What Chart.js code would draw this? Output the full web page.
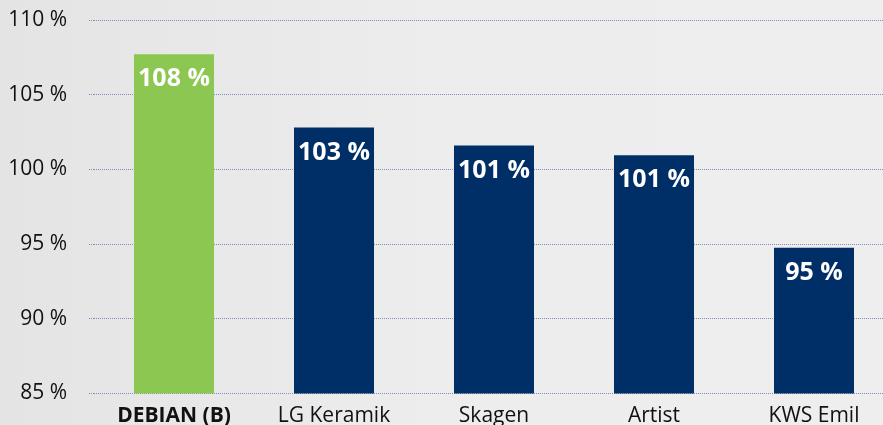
<!DOCTYPE html>
<html>
<head>
<meta charset="utf-8">
<script src="https://cdn.jsdelivr.net/npm/chart.js@4.4.0/dist/chart.umd.min.js"></script>
<style>
  html, body { margin: 0; padding: 0; overflow: hidden; background: #ebebeb; }
  body { width: 883px; height: 425px; background: linear-gradient(90deg, #e4e4e4 0%, #ededed 50%, #eeeeee 100%); }
  canvas { display: block; }
</style>
</head>
<body>
<canvas id="c" width="894" height="425"></canvas>
<script>
const categories = ["DEBIAN (B)", "LG Keramik", "Skagen", "Artist", "KWS Emil"];
const values = [107.7, 102.8, 101.6, 100.95, 94.75];
const valueLabels = ["108 %", "103 %", "101 %", "101 %", "95 %"];
const barColors = ["#8cc751", "#002f67", "#002f67", "#002f67", "#002f67"];
const yTicks = [85, 90, 95, 100, 105, 110];

const FONT = "'Open Sans', 'Noto Sans', sans-serif";

const valueLabelPlugin = {
  id: 'valueLabels',
  afterDatasetsDraw(chart) {
    const ctx = chart.ctx;
    const meta = chart.getDatasetMeta(0);
    ctx.save();
    ctx.fillStyle = '#ffffff';
    ctx.font = "bold 25px " + FONT;
    ctx.textAlign = 'center';
    ctx.textBaseline = 'middle';
    meta.data.forEach((bar, i) => {
      ctx.fillText(valueLabels[i], bar.x, bar.y + 25);
    });
    ctx.restore();
  }
};

new Chart(document.getElementById('c'), {
  type: 'bar',
  data: {
    labels: categories,
    datasets: [{
      data: values,
      backgroundColor: barColors,
      borderWidth: 0,
      barPercentage: 1.0,
      categoryPercentage: 0.5
    }]
  },
  options: {
    responsive: false,
    animation: false,
    devicePixelRatio: 1,
    layout: { padding: { top: 20, right: 0, left: 0, bottom: 0 } },
    plugins: { legend: { display: false }, tooltip: { enabled: false } },
    scales: {
      x: {
        grid: { display: false, drawTicks: false },
        border: { display: false },
        ticks: {
          color: '#111111',
          padding: 10,
          font: (c) => ({ family: FONT, size: 21, weight: c.index === 0 ? 'bold' : 'normal' })
        },
        afterFit(scale) {
          scale.height = 31.5;
          scale.paddingLeft = 0; scale.paddingRight = 0;
          scale.paddingTop = 0; scale.paddingBottom = 0;
        }
      },
      y: {
        min: 85,
        max: 110,
        afterBuildTicks(scale) { scale.ticks = yTicks.map(v => ({ value: v })); },
        grid: {
          color: '#7f8bc0',
          lineWidth: 1,
          borderDash: [1, 1],
          tickLength: 5,
          tickColor: '#7f8bc0',
          tickBorderDash: [1, 1],
          drawTicks: true
        },
        border: { display: false, dash: [1, 1] },
        ticks: {
          color: '#111111',
          padding: 22,
          font: { family: FONT, size: 21 },
          callback: (v) => v + ' %'
        },
        afterFit(scale) {
          scale.width = 94;
          scale.paddingTop = 0; scale.paddingBottom = 0;
          scale.paddingLeft = 0; scale.paddingRight = 0;
        }
      }
    }
  },
  plugins: [valueLabelPlugin]
});
</script>
</body>
</html>
